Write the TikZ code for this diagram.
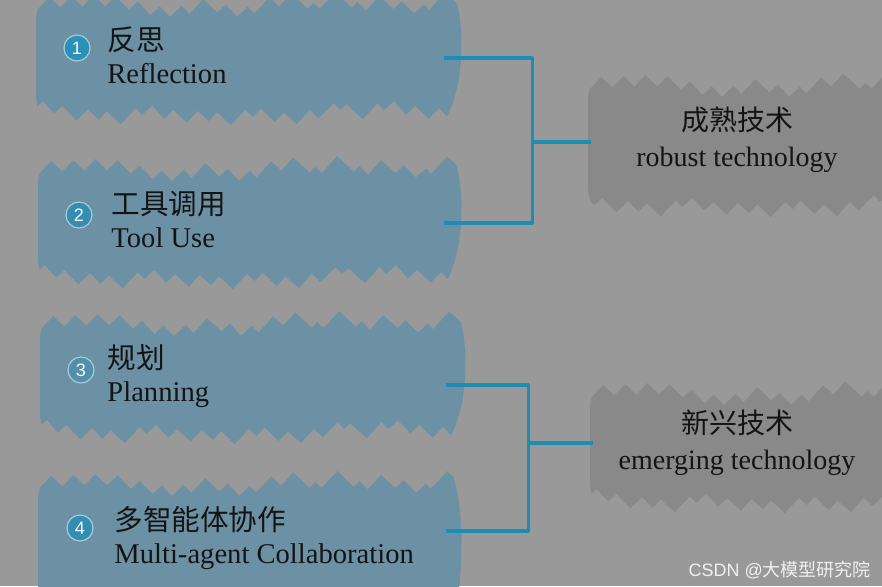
\documentclass[tikz,border=0pt]{standalone}
\usepackage{fontspec}
\setmainfont{Liberation Serif}
\newfontfamily\cjk{Noto Sans CJK SC}
\newfontfamily\numfont{Liberation Sans}
\usetikzlibrary{positioning}

\definecolor{bgcol}{HTML}{999999}
\definecolor{brushblue}{HTML}{6D91A4}
\definecolor{brushgray}{HTML}{898989}
\definecolor{lineblue}{HTML}{1F8CB4}
\definecolor{ink}{HTML}{141414}
\definecolor{ring}{HTML}{A9C9D6}

\newcommand\brush[5]{%
  \begin{scope}
    \clip[rounded corners=22pt] (#1,#2-30) -- (#3-70,#2-30)
      .. controls (#3+8,#2-30) and (#3+8,#4+30) .. (#3-90,#4+30) -- (#1,#4+30) -- cycle;
    \pgfmathsetseed{11}
    \foreach \i in {0,...,32} {
      \pgfmathsetmacro\k{#1-(#4-#2)+22*\i}
      \pgfmathsetmacro\da{9*rand}
      \pgfmathsetmacro\db{9*rand}
      \draw[#5, line width=12pt] (\k,#4+\da) -- (\k+#4-#2,#2+\db);
    }
  \end{scope}}

\begin{document}
\begin{tikzpicture}[x=0.5pt,y=-0.5pt,
    bracket/.style={draw=lineblue, line width=1.6pt, line join=round},
    numdot/.style={circle, fill=#1, draw=ring, line width=0.6pt, minimum size=13pt, inner sep=0pt,
      text=white!90!ring, font=\numfont\fontsize{9}{9}\selectfont},
    item/.style={anchor=west, align=left, inner sep=0pt, text=ink, font=\fontsize{14.3}{16.5}\selectfont},
    tech/.style={align=center, inner sep=0pt, text=ink, font=\fontsize{14}{18}\selectfont},
    box/.style={minimum width=202pt, minimum height=50pt, inner sep=0pt},
    gbox/.style={minimum width=145pt, minimum height=55pt, inner sep=0pt}]
    \fill[bgcol] (0,0) rectangle (882,586);
    \useasboundingbox (0,0) rectangle (882,586);

    \brush{36}{8}{464}{108}{brushblue}
    \brush{38}{172}{464}{272}{brushblue}
    \brush{40}{327}{468}{427}{brushblue}
    \brush{38}{487}{464}{640}{brushblue}
    \brush{588}{88}{960}{200}{brushgray}
    \brush{590}{396}{960}{496}{brushgray}

    \node[box] (refl) at (242,58) {};
    \node[box] (tool) at (242,223) {};
    \node[box] (plan) at (244,385) {};
    \node[box] (multi) at (244,531) {};
    \node[gbox] (robust) at (736,142) {};
    \node[gbox] (emerg) at (738,443) {};

    \node[numdot=lineblue!95!white] (n1) at (77,48) {1};
    \node[numdot=lineblue!70!brushblue] (n2) at (79,215) {2};
    \node[numdot=lineblue!35!brushblue] (n3) at (81,370) {3};
    \node[numdot=lineblue!75!brushblue] (n4) at (80,528) {4};

    \node[item] (t1) at (107,55) {{\cjk 反思}\\Reflection};
    \node[item] (t2) at (111,219) {{\cjk 工具调用}\\Tool Use};
    \node[item] (t3) at (107,376) {{\cjk 规划}\\Planning};
    \node[item] (t4) at (114,538) {{\cjk 多智能体协作}\\Multi-agent Collaboration};
    \node[tech] (t5) at (737,140) {{\cjk 成熟技术}\\robust technology};
    \node[tech] (t6) at (737,443) {{\cjk 新兴技术}\\emerging technology};

    \draw[bracket] (refl.east) -- ++(88,0) coordinate (k1) |- (tool.east);
    \draw[bracket] (k1 |- robust.west) -- (robust.west);
    \draw[bracket] (plan.east) -- ++(82,0) coordinate (k2) |- (multi.east);
    \draw[bracket] (k2 |- emerg.west) -- (emerg.west);

    \node[anchor=east, text=white!85!bgcol, font=\numfont\fontsize{9}{9}\selectfont] (wm) at (878,570)
      {CSDN @{\cjk 大模型研究院}};
\end{tikzpicture}
\end{document}
